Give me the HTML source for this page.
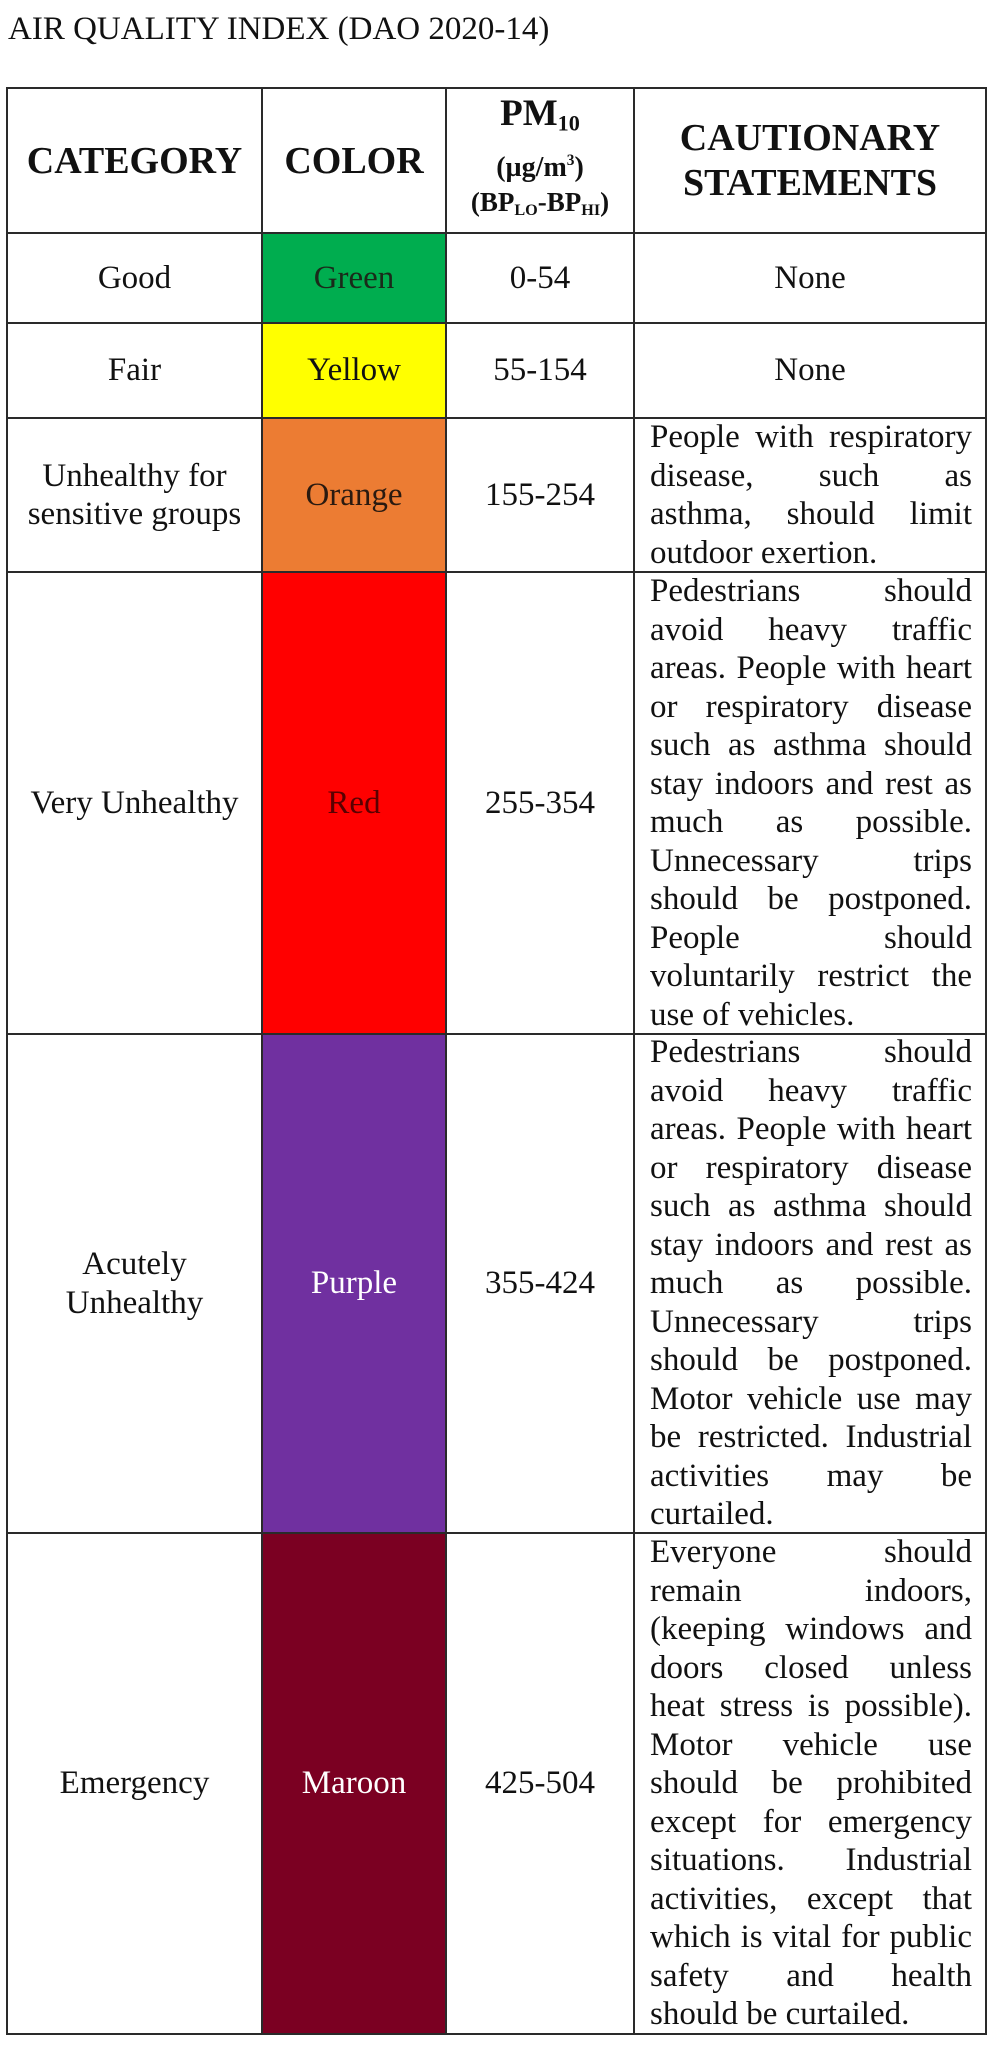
<!DOCTYPE html>
<html><head><meta charset="utf-8">
<style>
body{margin:0;width:989px;height:2057px;background:#fff;position:relative;font-family:"Liberation Serif",serif;color:#111;overflow:hidden}
.title{position:absolute;left:8px;top:12px;font-size:33px;line-height:34px;white-space:nowrap}
.cell{position:absolute;display:flex;flex-direction:column;justify-content:center;align-items:center;text-align:center;box-sizing:border-box}
.txt{font-size:33px;line-height:38.5px}
.hdr{font-weight:bold}
.st{align-items:stretch;padding:0 14px 0 16px}
.st div{font-size:33px;line-height:38.5px;white-space:nowrap;text-align:justify;text-align-last:justify}
.st div.l{text-align-last:left}
.h{position:absolute;height:2px;background:#2a2a2a;left:6px;width:981px}
.v{position:absolute;width:2px;background:#2a2a2a;top:87px;height:1948px}
sub{font-size:0.6em;vertical-align:-0.25em}
sup{font-size:0.55em;vertical-align:0.7em}
</style></head>
<body>
<div class="title">AIR QUALITY INDEX (DAO 2020-14)</div>

<div class="cell hdr" style="left:7px;top:88px;width:255px;height:145px;font-size:38px">CATEGORY</div>
<div class="cell hdr" style="left:262px;top:88px;width:184px;height:145px;font-size:38px">COLOR</div>
<div class="cell hdr" style="left:446px;top:88px;width:188px;height:145px">
<div style="font-size:37px;line-height:40px">PM<sub>10</sub></div>
<div style="font-size:28px;line-height:35px">(µg/m<sup>3</sup>)</div>
<div style="font-size:27px;line-height:34px">(BP<sub>LO</sub>-BP<sub>HI</sub>)</div>
</div>
<div class="cell hdr" style="left:634px;top:88px;width:352px;height:145px;font-size:38px;line-height:45px">CAUTIONARY<br>STATEMENTS</div>

<div class="cell txt" style="left:7px;top:233px;width:255px;height:90px">Good</div>
<div class="cell txt" style="left:262px;top:233px;width:184px;height:90px;background:#00ad4f;color:#1a2a1a">Green</div>
<div class="cell txt" style="left:446px;top:233px;width:188px;height:90px">0-54</div>
<div class="cell txt" style="left:634px;top:233px;width:352px;height:90px">None</div>

<div class="cell txt" style="left:7px;top:323px;width:255px;height:95px">Fair</div>
<div class="cell txt" style="left:262px;top:323px;width:184px;height:95px;background:#ffff00">Yellow</div>
<div class="cell txt" style="left:446px;top:323px;width:188px;height:95px">55-154</div>
<div class="cell txt" style="left:634px;top:323px;width:352px;height:95px">None</div>

<div class="cell txt" style="left:7px;top:418px;width:255px;height:154px">Unhealthy for<br>sensitive groups</div>
<div class="cell txt" style="left:262px;top:418px;width:184px;height:154px;background:#ec7c33;color:#2a1a10">Orange</div>
<div class="cell txt" style="left:446px;top:418px;width:188px;height:154px">155-254</div>
<div class="cell st" style="left:634px;top:418px;width:352px;height:154px">
<div>People with respiratory</div><div>disease, such as</div><div>asthma, should limit</div><div class="l">outdoor exertion.</div>
</div>

<div class="cell txt" style="left:7px;top:572px;width:255px;height:462px">Very Unhealthy</div>
<div class="cell txt" style="left:262px;top:572px;width:184px;height:462px;background:#ff0000;color:#5a0000">Red</div>
<div class="cell txt" style="left:446px;top:572px;width:188px;height:462px">255-354</div>
<div class="cell st" style="left:634px;top:572px;width:352px;height:462px">
<div>Pedestrians should</div><div>avoid heavy traffic</div><div>areas. People with heart</div><div>or respiratory disease</div><div>such as asthma should</div><div>stay indoors and rest as</div><div>much as possible.</div><div>Unnecessary trips</div><div>should be postponed.</div><div>People should</div><div>voluntarily restrict the</div><div class="l">use of vehicles.</div>
</div>

<div class="cell txt" style="left:7px;top:1034px;width:255px;height:499px">Acutely<br>Unhealthy</div>
<div class="cell txt" style="left:262px;top:1034px;width:184px;height:499px;background:#7030a0;color:#fff">Purple</div>
<div class="cell txt" style="left:446px;top:1034px;width:188px;height:499px">355-424</div>
<div class="cell st" style="left:634px;top:1034px;width:352px;height:499px">
<div>Pedestrians should</div><div>avoid heavy traffic</div><div>areas. People with heart</div><div>or respiratory disease</div><div>such as asthma should</div><div>stay indoors and rest as</div><div>much as possible.</div><div>Unnecessary trips</div><div>should be postponed.</div><div>Motor vehicle use may</div><div>be restricted. Industrial</div><div>activities may be</div><div class="l">curtailed.</div>
</div>

<div class="cell txt" style="left:7px;top:1533px;width:255px;height:501px">Emergency</div>
<div class="cell txt" style="left:262px;top:1533px;width:184px;height:501px;background:#7b0022;color:#fff">Maroon</div>
<div class="cell txt" style="left:446px;top:1533px;width:188px;height:501px">425-504</div>
<div class="cell st" style="left:634px;top:1533px;width:352px;height:501px">
<div>Everyone should</div><div>remain indoors,</div><div>(keeping windows and</div><div>doors closed unless</div><div>heat stress is possible).</div><div>Motor vehicle use</div><div>should be prohibited</div><div>except for emergency</div><div>situations. Industrial</div><div>activities, except that</div><div>which is vital for public</div><div>safety and health</div><div class="l">should be curtailed.</div>
</div>

<div class="h" style="top:87px"></div>
<div class="h" style="top:232px"></div>
<div class="h" style="top:322px"></div>
<div class="h" style="top:417px"></div>
<div class="h" style="top:571px"></div>
<div class="h" style="top:1033px"></div>
<div class="h" style="top:1532px"></div>
<div class="h" style="top:2033px"></div>
<div class="v" style="left:6px"></div>
<div class="v" style="left:261px"></div>
<div class="v" style="left:445px"></div>
<div class="v" style="left:633px"></div>
<div class="v" style="left:985px"></div>
</body></html>
